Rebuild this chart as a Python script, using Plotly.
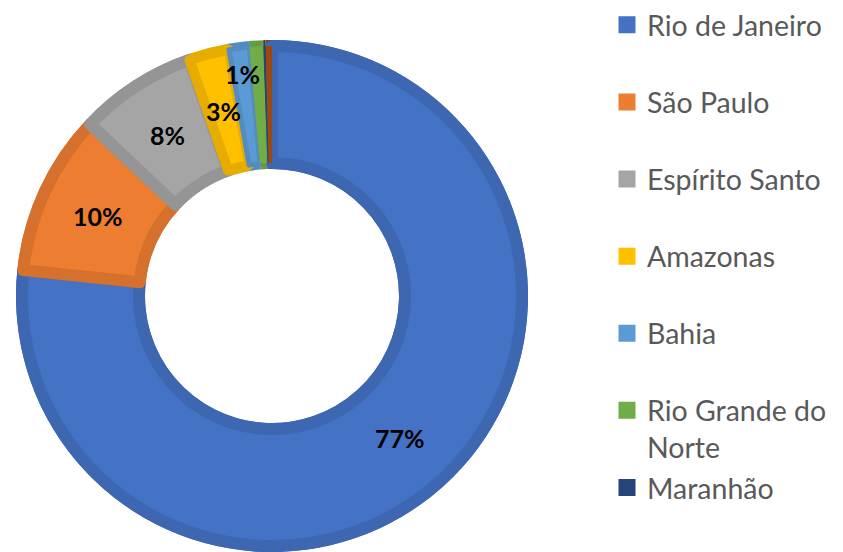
import math
import plotly.graph_objects as go

# ---- data ----
states = ["Rio de Janeiro", "São Paulo", "Espírito Santo", "Amazonas", "Bahia",
          "Rio Grande do Norte", "Maranhão", "Outros"]
shares = [76.65, 10.4, 7.6, 2.6, 1.3, 0.9, 0.15, 0.4]
legend_labels = ["Rio de Janeiro<br>\u00a0", "São Paulo<br>\u00a0", "Espírito Santo<br>\u00a0",
                 "Amazonas<br>\u00a0", "Bahia<br>\u00a0", "Rio Grande do<br>Norte", "Maranhão"]
fill_colors = ["#4472C4", "#ED7D31", "#A5A5A5", "#FFC000", "#5B9BD5", "#70AD47", "#264478", "#9E480E"]
edge_colors = ["#3D67B1", "#D5712C", "#959595", "#E6AD00", "#528CC0", "#659C40", "#223D6C", "#8E410D"]

# ---- geometry (figure pixels; the page adds an 8px body margin) ----
W, H = 835, 544
CX, CY = 264, 288
R_OUT, R_IN = 256, 127
EDGE = 12  # stroke width of the darker edge
LEG_FONT = 28.5
LEG_TOP = -8  # desired legend top in figure pixels
LEG_X = 599


def domain(r):
    return dict(x=[(CX - r) / W, (CX + r) / W], y=[(H - CY - r) / H, (H - CY + r) / H])


fig = go.Figure()

# legend-only trace (hidden under the ring)
n_leg = len(legend_labels)
fig.add_trace(go.Pie(
    labels=legend_labels, values=shares[:n_leg], sort=False, direction="clockwise",
    rotation=0, domain=domain(R_OUT - 8), hole=(R_IN + 20) / (R_OUT - 8),
    marker=dict(colors=fill_colors[:n_leg], line=dict(color=fill_colors[:n_leg], width=5)),
    textinfo="none", hoverinfo="skip", showlegend=True,
))

# bottom layer: full ring in the darker edge colour
fig.add_trace(go.Pie(
    labels=states, values=shares, sort=False, direction="clockwise", rotation=0,
    domain=domain(R_OUT), hole=R_IN / R_OUT,
    marker=dict(colors=edge_colors, line=dict(width=0)),
    textinfo="none", hoverinfo="skip", showlegend=False,
))

# top layer: lighter fill inset by the darker edge
r2_out = R_OUT - EDGE / 2
r2_in = R_IN + EDGE / 2
widths = [EDGE if s >= 5 else (10 if s >= 2 else (5 if s >= 1.2 else 0)) for s in shares]
fig.add_trace(go.Pie(
    labels=states, values=shares, sort=False, direction="clockwise", rotation=0,
    domain=domain(r2_out), hole=r2_in / r2_out,
    marker=dict(colors=fill_colors, line=dict(color=edge_colors, width=widths)),
    textinfo="none", hoverinfo="label+percent", showlegend=False,
))

# data labels at mid-angle / mid-ring
total = sum(shares)
cum = 0.0
for s in shares:
    pct = 100 * s / total
    mid = (cum + s / 2) / total * 2 * math.pi
    cum += s
    if pct < 1.0:
        continue
    r = (R_OUT + R_IN) / 2 if pct >= 2 else R_OUT * 0.875
    px = CX + r * math.sin(mid)
    py = CY - r * math.cos(mid)
    fig.add_annotation(
        x=px / W, y=(H - py) / H, xref="paper", yref="paper", showarrow=False,
        text=f"<b>{round(pct):d}%</b>",
        font=dict(family="Lato", size=25, color="#000000"),
        xanchor="center", yanchor="middle",
    )

# estimated legend height (plotly: 1.3 line spacing, +3 per item, small padding)
n_lines = sum(lbl.count("<br>") + 1 for lbl in legend_labels)
leg_h = n_lines * 1.3 * LEG_FONT + 3 * n_leg + 10
leg_center = LEG_TOP + leg_h / 2

fig.update_layout(
    width=W, height=H, margin=dict(l=0, r=0, t=0, b=0, autoexpand=False),
    paper_bgcolor="white", plot_bgcolor="white",
    legend=dict(
        x=LEG_X / W, y=1 - leg_center / H, xanchor="left", yanchor="middle", valign="top",
        font=dict(family="Lato", size=LEG_FONT, color="#595959"),
        bgcolor="rgba(0,0,0,0)", traceorder="normal",
    ),
)

fig.write_html("out.html")
